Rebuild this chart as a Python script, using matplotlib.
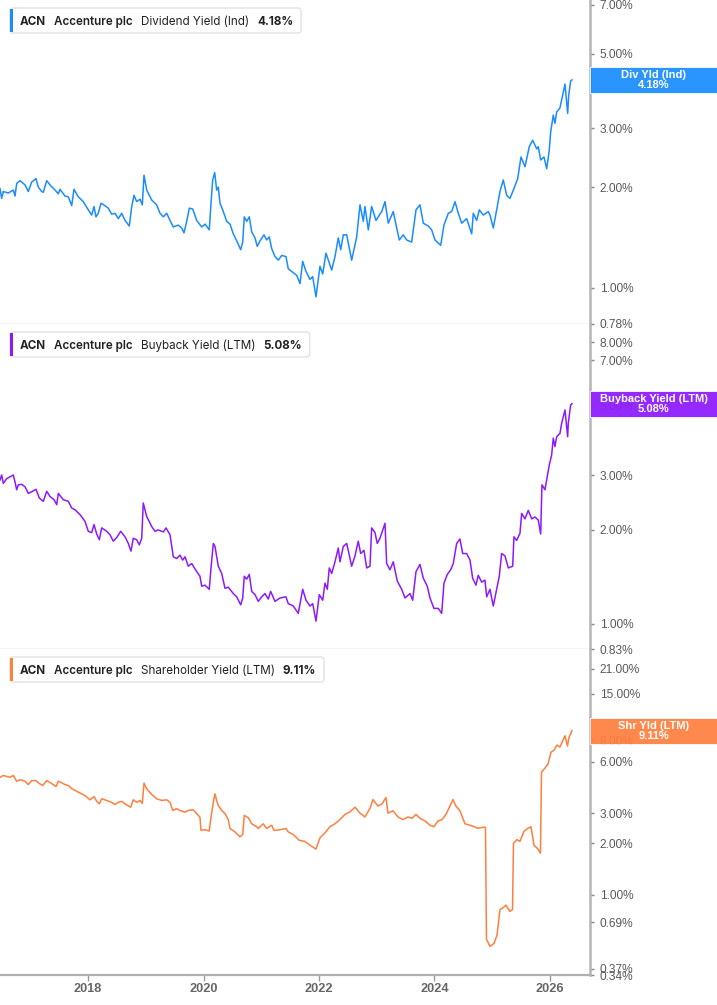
import matplotlib
matplotlib.use("Agg")
import matplotlib.pyplot as plt
from matplotlib.patches import Rectangle, FancyBboxPatch
from matplotlib.transforms import IdentityTransform

# ---------------- data ----------------
ticker = "ACN"
company = "Accenture plc"
metric_names = ["Dividend Yield (Ind)", "Buyback Yield (LTM)", "Shareholder Yield (LTM)"]
short_names = ["Div Yld (Ind)", "Buyback Yield (LTM)", "Shr Yld (LTM)"]
last_values = [4.18, 5.08, 9.11]
series_colors = ["#1a8cff", "#8c1aff", "#ff7f3f"]

div_years = [2016.476, 2016.505, 2016.533, 2016.620, 2016.706, 2016.736, 2016.765, 2016.822, 2016.909, 2016.966,
             2017.025, 2017.099, 2017.139, 2017.198, 2017.226, 2017.285, 2017.342, 2017.428, 2017.486, 2017.515,
             2017.602, 2017.659, 2017.718, 2017.757, 2017.832, 2017.918, 2018.005, 2018.064, 2018.104, 2018.138,
             2018.178, 2018.225, 2018.294, 2018.351, 2018.410, 2018.467, 2018.525, 2018.583, 2018.641, 2018.715,
             2018.757, 2018.796, 2018.843, 2018.900, 2018.940, 2018.970, 2019.016, 2019.103, 2019.189, 2019.247,
             2019.304, 2019.363, 2019.420, 2019.477, 2019.563, 2019.622, 2019.662, 2019.709, 2019.754, 2019.813,
             2019.882, 2019.969, 2020.026, 2020.100, 2020.130, 2020.159, 2020.194, 2020.228, 2020.256, 2020.286,
             2020.332, 2020.402, 2020.459, 2020.516, 2020.585, 2020.644, 2020.679, 2020.706, 2020.748, 2020.793,
             2020.835, 2020.892, 2020.931, 2020.978, 2021.047, 2021.094, 2021.139, 2021.181, 2021.238, 2021.295,
             2021.354, 2021.428, 2021.468, 2021.555, 2021.614, 2021.671, 2021.718, 2021.775, 2021.844, 2021.891,
             2021.948, 2022.017, 2022.064, 2022.121, 2022.220, 2022.277, 2022.334, 2022.376, 2022.421, 2022.480,
             2022.566, 2022.653, 2022.710, 2022.767, 2022.796, 2022.854, 2022.912, 2022.987, 2023.086, 2023.143,
             2023.200, 2023.286, 2023.390, 2023.460, 2023.518, 2023.605, 2023.680, 2023.749, 2023.806, 2023.893,
             2023.951, 2024.009, 2024.107, 2024.164, 2024.239, 2024.298, 2024.355, 2024.412, 2024.471, 2024.557,
             2024.644, 2024.672, 2024.731, 2024.776, 2024.845, 2024.931, 2024.961, 2025.018, 2025.077, 2025.134,
             2025.191, 2025.250, 2025.307, 2025.376, 2025.441, 2025.498, 2025.567, 2025.641, 2025.700, 2025.770,
             2025.797, 2025.839, 2025.896, 2025.943, 2025.988, 2026.012, 2026.057, 2026.086, 2026.116, 2026.173,
             2026.202, 2026.260, 2026.306, 2026.324, 2026.358, 2026.381]
div_yield = [1.98, 1.85, 1.94, 1.92, 1.96, 1.88, 2.05, 2.09, 2.03, 1.94,
             2.07, 2.12, 2.00, 1.94, 1.93, 2.09, 2.03, 1.96, 1.91, 1.97,
             1.88, 1.87, 1.76, 1.97, 1.87, 1.81, 1.71, 1.65, 1.75, 1.63,
             1.67, 1.79, 1.76, 1.73, 1.66, 1.67, 1.61, 1.67, 1.59, 1.53,
             1.75, 1.89, 1.81, 1.84, 1.77, 2.17, 1.96, 1.83, 1.77, 1.67,
             1.63, 1.67, 1.59, 1.52, 1.54, 1.51, 1.46, 1.58, 1.73, 1.72,
             1.59, 1.52, 1.55, 1.49, 1.79, 2.10, 2.21, 1.96, 2.00, 1.79,
             1.71, 1.58, 1.55, 1.45, 1.37, 1.30, 1.37, 1.63, 1.58, 1.63,
             1.47, 1.41, 1.33, 1.38, 1.44, 1.39, 1.42, 1.31, 1.24, 1.21,
             1.25, 1.24, 1.14, 1.11, 1.09, 1.03, 1.20, 1.12, 1.06, 1.08,
             0.94, 1.16, 1.10, 1.27, 1.13, 1.24, 1.41, 1.30, 1.44, 1.44,
             1.21, 1.42, 1.77, 1.58, 1.75, 1.49, 1.75, 1.59, 1.69, 1.81,
             1.56, 1.69, 1.39, 1.44, 1.39, 1.37, 1.71, 1.77, 1.56, 1.53,
             1.49, 1.39, 1.34, 1.54, 1.67, 1.69, 1.81, 1.67, 1.56, 1.61,
             1.45, 1.67, 1.59, 1.71, 1.65, 1.69, 1.65, 1.51, 1.71, 1.94,
             2.10, 1.89, 1.85, 1.98, 2.12, 2.46, 2.30, 2.64, 2.76, 2.60,
             2.64, 2.41, 2.46, 2.27, 2.58, 2.92, 3.28, 3.10, 3.35, 3.45,
             3.64, 4.06, 3.32, 3.75, 4.15, 4.18]

buyback_years = [2016.476, 2016.505, 2016.533, 2016.592, 2016.706, 2016.736, 2016.765, 2016.793, 2016.852, 2016.909,
                 2016.966, 2017.025, 2017.099, 2017.157, 2017.226, 2017.285, 2017.342, 2017.411, 2017.458, 2017.486,
                 2017.572, 2017.659, 2017.718, 2017.775, 2017.861, 2017.948, 2018.005, 2018.064, 2018.104, 2018.151,
                 2018.196, 2018.237, 2018.324, 2018.381, 2018.438, 2018.497, 2018.566, 2018.641, 2018.698, 2018.744,
                 2018.784, 2018.843, 2018.888, 2018.930, 2018.957, 2019.016, 2019.103, 2019.160, 2019.217, 2019.304,
                 2019.351, 2019.420, 2019.477, 2019.536, 2019.593, 2019.640, 2019.680, 2019.737, 2019.796, 2019.882,
                 2019.939, 2019.969, 2020.026, 2020.100, 2020.130, 2020.170, 2020.199, 2020.228, 2020.256, 2020.315,
                 2020.372, 2020.429, 2020.516, 2020.575, 2020.644, 2020.679, 2020.706, 2020.748, 2020.793, 2020.835,
                 2020.892, 2020.949, 2021.008, 2021.065, 2021.122, 2021.163, 2021.238, 2021.325, 2021.428, 2021.468,
                 2021.555, 2021.641, 2021.718, 2021.775, 2021.844, 2021.891, 2021.948, 2022.005, 2022.064, 2022.104,
                 2022.144, 2022.178, 2022.220, 2022.277, 2022.334, 2022.363, 2022.421, 2022.480, 2022.566, 2022.623,
                 2022.680, 2022.722, 2022.779, 2022.826, 2022.883, 2022.912, 2022.970, 2023.009, 2023.056, 2023.143,
                 2023.172, 2023.229, 2023.286, 2023.356, 2023.432, 2023.489, 2023.576, 2023.622, 2023.680, 2023.749,
                 2023.806, 2023.875, 2023.922, 2023.991, 2024.066, 2024.125, 2024.164, 2024.222, 2024.280, 2024.325,
                 2024.384, 2024.441, 2024.488, 2024.557, 2024.615, 2024.661, 2024.718, 2024.758, 2024.817, 2024.874,
                 2024.904, 2024.961, 2025.018, 2025.077, 2025.122, 2025.163, 2025.221, 2025.278, 2025.354, 2025.376,
                 2025.423, 2025.480, 2025.510, 2025.567, 2025.624, 2025.683, 2025.740, 2025.797, 2025.839, 2025.861,
                 2025.913, 2025.943, 2025.988, 2026.029, 2026.057, 2026.086, 2026.116, 2026.173, 2026.202, 2026.260,
                 2026.306, 2026.317, 2026.358, 2026.381]
buyback_yield = [2.89, 3.00, 2.82, 2.92, 3.00, 2.85, 2.69, 2.79, 2.80, 2.75,
                 2.62, 2.65, 2.70, 2.53, 2.47, 2.66, 2.56, 2.50, 2.41, 2.62,
                 2.50, 2.47, 2.35, 2.32, 2.24, 2.13, 1.98, 1.96, 2.08, 1.94,
                 1.86, 2.03, 1.98, 1.93, 1.84, 1.89, 1.98, 1.90, 1.81, 1.71,
                 1.88, 1.86, 1.79, 1.88, 2.44, 2.21, 2.05, 1.98, 2.00, 1.97,
                 2.03, 1.93, 1.64, 1.62, 1.66, 1.60, 1.64, 1.53, 1.56, 1.47,
                 1.42, 1.32, 1.33, 1.29, 1.51, 1.81, 1.77, 1.64, 1.53, 1.45,
                 1.30, 1.31, 1.25, 1.22, 1.15, 1.21, 1.42, 1.39, 1.44, 1.27,
                 1.24, 1.18, 1.22, 1.25, 1.20, 1.27, 1.18, 1.21, 1.22, 1.16,
                 1.14, 1.08, 1.29, 1.19, 1.14, 1.16, 1.02, 1.24, 1.19, 1.35,
                 1.29, 1.51, 1.45, 1.58, 1.75, 1.58, 1.77, 1.81, 1.53, 1.65,
                 1.84, 1.68, 1.72, 1.51, 1.53, 2.03, 1.96, 1.81, 1.88, 2.10,
                 1.56, 1.49, 1.58, 1.37, 1.29, 1.21, 1.25, 1.19, 1.47, 1.55,
                 1.40, 1.32, 1.21, 1.12, 1.12, 1.08, 1.35, 1.44, 1.49, 1.56,
                 1.81, 1.87, 1.68, 1.68, 1.60, 1.40, 1.33, 1.43, 1.36, 1.38,
                 1.22, 1.29, 1.14, 1.29, 1.42, 1.68, 1.65, 1.51, 1.53, 1.90,
                 1.85, 1.95, 2.26, 2.17, 2.31, 2.17, 2.20, 2.15, 1.94, 2.79,
                 2.69, 2.89, 3.23, 3.48, 3.94, 3.70, 3.98, 4.08, 4.39, 4.85,
                 3.98, 4.40, 5.03, 5.08]

shr_years = [2016.476, 2016.533, 2016.649, 2016.706, 2016.765, 2016.822, 2016.909, 2016.966, 2017.025, 2017.099,
             2017.157, 2017.215, 2017.285, 2017.371, 2017.446, 2017.486, 2017.602, 2017.659, 2017.718, 2017.832,
             2017.948, 2018.034, 2018.104, 2018.151, 2018.196, 2018.237, 2018.324, 2018.410, 2018.467, 2018.525,
             2018.583, 2018.658, 2018.739, 2018.784, 2018.843, 2018.900, 2018.940, 2018.970, 2019.016, 2019.103,
             2019.189, 2019.276, 2019.363, 2019.420, 2019.467, 2019.536, 2019.593, 2019.680, 2019.737, 2019.823,
             2019.882, 2019.939, 2019.957, 2020.026, 2020.100, 2020.130, 2020.170, 2020.199, 2020.228, 2020.256,
             2020.315, 2020.372, 2020.429, 2020.459, 2020.545, 2020.632, 2020.679, 2020.706, 2020.776, 2020.835,
             2020.921, 2020.949, 2021.035, 2021.094, 2021.181, 2021.221, 2021.325, 2021.428, 2021.468, 2021.555,
             2021.659, 2021.757, 2021.844, 2021.948, 2022.017, 2022.104, 2022.190, 2022.277, 2022.363, 2022.450,
             2022.537, 2022.623, 2022.710, 2022.796, 2022.883, 2022.935, 2023.021, 2023.091, 2023.160, 2023.195,
             2023.281, 2023.368, 2023.454, 2023.541, 2023.610, 2023.680, 2023.749, 2023.835, 2023.922, 2023.991,
             2024.060, 2024.130, 2024.199, 2024.268, 2024.320, 2024.372, 2024.441, 2024.528, 2024.615, 2024.684,
             2024.753, 2024.840, 2024.883, 2024.900, 2024.961, 2025.030, 2025.082, 2025.134, 2025.186, 2025.238,
             2025.307, 2025.351, 2025.368, 2025.428, 2025.480, 2025.550, 2025.619, 2025.671, 2025.723, 2025.792,
             2025.835, 2025.853, 2025.913, 2025.965, 2026.017, 2026.069, 2026.121, 2026.173, 2026.225, 2026.260,
             2026.303, 2026.329, 2026.381]
shr_yield = [4.86, 4.98, 4.86, 4.98, 4.61, 4.70, 4.61, 4.41, 4.65, 4.65,
             4.47, 4.35, 4.65, 4.47, 4.29, 4.61, 4.41, 4.35, 4.17, 3.98,
             3.80, 3.59, 3.75, 3.52, 3.40, 3.64, 3.56, 3.47, 3.37, 3.47,
             3.52, 3.37, 3.25, 3.59, 3.47, 3.56, 3.42, 4.49, 4.17, 3.86,
             3.64, 3.56, 3.59, 3.47, 3.11, 3.19, 3.11, 3.04, 3.11, 3.14,
             2.98, 2.84, 2.38, 2.40, 2.36, 2.84, 3.47, 3.89, 3.55, 3.33,
             3.11, 2.98, 2.75, 2.44, 2.33, 2.18, 2.25, 2.91, 2.82, 2.60,
             2.50, 2.44, 2.60, 2.44, 2.55, 2.38, 2.40, 2.44, 2.33, 2.25,
             2.08, 2.05, 1.95, 1.85, 2.15, 2.30, 2.50, 2.60, 2.75, 2.95,
             3.05, 3.25, 3.00, 2.85, 3.20, 3.60, 3.30, 3.40, 3.70, 3.00,
             3.10, 2.85, 2.75, 2.85, 2.80, 2.95, 2.80, 2.70, 2.55, 2.50,
             2.70, 2.75, 2.95, 3.30, 3.60, 3.30, 3.10, 2.60, 2.55, 2.50,
             2.45, 2.48, 2.48, 0.55, 0.50, 0.52, 0.58, 0.82, 0.84, 0.87,
             0.80, 0.82, 2.00, 2.10, 2.05, 2.35, 2.45, 2.50, 1.95, 1.85,
             1.75, 5.20, 5.50, 5.80, 6.80, 7.00, 7.50, 7.30, 8.00, 8.50,
             7.40, 8.30, 9.11]

year_ticks = [2018, 2020, 2022, 2024, 2026]
panel_yticks = [[7.0, 5.0, 3.0, 2.0, 1.0, 0.78],
                [8.0, 7.0, 5.0, 3.0, 2.0, 1.0, 0.83],
                [21.0, 15.0, 8.0, 6.0, 3.0, 2.0, 1.0, 0.69, 0.37, 0.34]]
panel_ylims = [(0.78, 7.24), (0.83, 9.15), (0.34, 27.3)]
x_range = (2016.476, 2026.693)

series_x = [div_years, buyback_years, shr_years]
series_y = [div_yield, buyback_yield, shr_yield]

# ---------------- layout ----------------
W, H = 717, 1005
fig = plt.figure(figsize=(W / 100, H / 100), dpi=100)
plot_right = 590
panel_px = [(0, 324), (324, 649), (649, 975)]

tick_font = "Liberation Sans"
leg_font = "Inter"

axes = []
for i, (top, bot) in enumerate(panel_px):
    ax = fig.add_axes([0, (H - bot) / H, plot_right / W, (bot - top) / H])
    ax.set_facecolor("white")
    ax.plot(series_x[i], series_y[i], color=series_colors[i], lw=1.1, solid_joinstyle="round")
    ax.set_yscale("log")
    ax.set_ylim(*panel_ylims[i])
    ax.set_xlim(*x_range)
    ax.yaxis.tick_right()
    ax.set_yticks(panel_yticks[i])
    ax.set_yticklabels([f"{v:.2f}%" for v in panel_yticks[i]])
    ax.minorticks_off()
    ax.tick_params(axis="y", which="major", length=3, width=1, color="#888888",
                   labelsize=8.6, labelcolor="#5a5a5a", pad=4)
    for lab in ax.get_yticklabels():
        lab.set_fontfamily(tick_font)
    for s in ["top", "left"]:
        ax.spines[s].set_visible(False)
    ax.spines["right"].set_color("#b5b5b5")
    ax.spines["right"].set_linewidth(1.8)
    ax.set_xticks(year_ticks)
    if i < 2:
        ax.spines["bottom"].set_color("#c8c8c8")
        ax.spines["bottom"].set_linewidth(1.0)
        ax.tick_params(axis="x", length=0, labelbottom=False)
    else:
        ax.spines["bottom"].set_color("#b0b0b0")
        ax.spines["bottom"].set_linewidth(1.6)
        ax.set_xticklabels([str(y) for y in year_ticks])
        ax.tick_params(axis="x", length=4, width=1, color="#999999", labelsize=9.2,
                       labelcolor="#666666", pad=1.5)
        for lab in ax.get_xticklabels():
            lab.set_fontfamily(tick_font)
            lab.set_fontweight("bold")
    axes.append(ax)

# value label boxes on the right axis
for i, ax in enumerate(axes):
    top, bot = panel_px[i]
    h_ax = 26 / (bot - top)
    w_ax = (W - plot_right) / plot_right
    fy = ax.transAxes.inverted().transform(ax.transData.transform((x_range[0], last_values[i])))[1]
    rect = Rectangle((1.0, fy - h_ax / 2), w_ax, h_ax, transform=ax.transAxes, clip_on=False,
                     facecolor=series_colors[i], edgecolor="white", lw=0.6, alpha=0.93, zorder=10)
    ax.add_artist(rect)
    ax.text(1.0 + w_ax / 2, fy, f"{short_names[i]}\n{last_values[i]:.2f}%", transform=ax.transAxes,
            ha="center", va="center", color="white", fontsize=8, fontweight="bold",
            family=tick_font, linespacing=1.0, zorder=11, clip_on=False)

# legends (top-left of each panel)
fig.canvas.draw()
renderer = fig.canvas.get_renderer()
for i, ax in enumerate(axes):
    top, bot = panel_px[i]
    base_y = H - (top + 25)  # baseline in display pixels
    pieces = [(ticker, "bold"), (company, "semibold"), (metric_names[i], "normal"),
              (f"{last_values[i]:.2f}%", "bold")]
    gaps = [0, 8, 8, 8]
    x = 20
    for (txt, wt), g in zip(pieces, gaps):
        x = x + g
        t = fig.text(x / W, base_y / H, txt, fontsize=8.4, fontweight=wt, family=leg_font,
                     color="#222222", ha="left", va="baseline", zorder=6)
        bb = t.get_window_extent(renderer)
        x = bb.x1
    box_top = H - (top + 8)
    box_bot = H - (top + 33)
    box = FancyBboxPatch((10, box_bot), x + 8 - 10, box_top - box_bot,
                         boxstyle="round,pad=0,rounding_size=3", transform=IdentityTransform(),
                         facecolor="white", edgecolor="#e2e2e2", lw=1.0, zorder=4)
    fig.add_artist(box)
    bar = Rectangle((10, box_bot + 1), 3, box_top - box_bot - 2, transform=IdentityTransform(),
                    facecolor=series_colors[i], edgecolor="none", zorder=5)
    fig.add_artist(bar)

fig.savefig("out.png", dpi=100, facecolor="white")
